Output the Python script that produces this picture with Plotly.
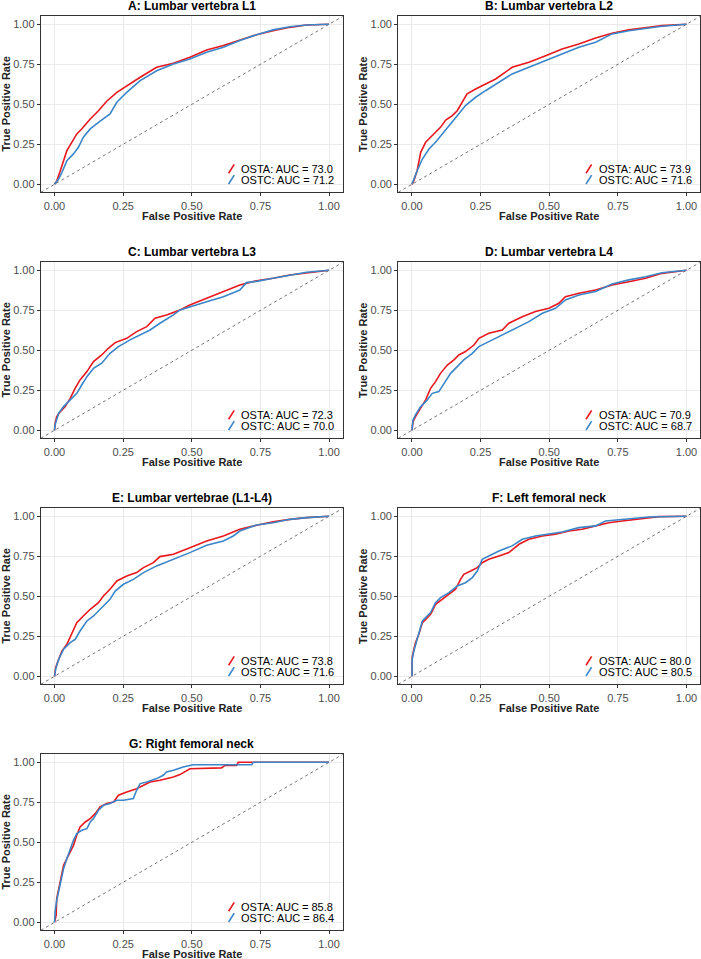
import plotly.graph_objects as go

# ---------------- data ----------------
titles = ["A: Lumbar vertebra L1", "B: Lumbar vertebra L2", "C: Lumbar vertebra L3",
          "D: Lumbar vertebra L4", "E: Lumbar vertebrae (L1-L4)", "F: Left femoral neck",
          "G: Right femoral neck"]
auc_osta = [73.0, 73.9, 72.3, 70.9, 73.8, 80.0, 85.8]
auc_ostc = [71.2, 71.6, 70.0, 68.7, 71.6, 80.5, 86.4]
tick_vals = [0.0, 0.25, 0.5, 0.75, 1.0]
tick_text = ["0.00", "0.25", "0.50", "0.75", "1.00"]

a_osta_fpr = [0, 0.008, 0.021, 0.033, 0.045, 0.063, 0.081, 0.099, 0.13, 0.16, 0.19, 0.227, 0.263, 0.312, 0.372, 0.433, 0.493, 0.554, 0.615, 0.675, 0.736, 0.796, 0.857, 0.918, 1]
a_osta_tpr = [0, 0.02, 0.085, 0.148, 0.21, 0.2625, 0.315, 0.346, 0.408, 0.46, 0.519, 0.575, 0.617, 0.669, 0.731, 0.756, 0.794, 0.84, 0.867, 0.902, 0.935, 0.96, 0.981, 0.996, 1]
a_ostc_fpr = [0, 0.015, 0.027, 0.045, 0.069, 0.087, 0.105, 0.13, 0.16, 0.202, 0.227, 0.263, 0.312, 0.372, 0.433, 0.493, 0.554, 0.615, 0.675, 0.736, 0.796, 0.857, 0.918, 1]
a_ostc_tpr = [0, 0.033, 0.075, 0.148, 0.19, 0.231, 0.294, 0.346, 0.3875, 0.44, 0.5125, 0.575, 0.648, 0.71, 0.752, 0.783, 0.825, 0.856, 0.898, 0.935, 0.965, 0.985, 0.996, 1]

b_osta_fpr = [0, 0.007, 0.019, 0.032, 0.05, 0.068, 0.086, 0.104, 0.123, 0.147, 0.165, 0.183, 0.201, 0.232, 0.268, 0.305, 0.365, 0.426, 0.487, 0.547, 0.608, 0.669, 0.729, 0.79, 0.863, 0.911, 1]
b_osta_tpr = [0, 0.023, 0.085, 0.2, 0.2625, 0.294, 0.325, 0.356, 0.402, 0.429, 0.46, 0.5125, 0.565, 0.596, 0.627, 0.658, 0.731, 0.7625, 0.804, 0.846, 0.877, 0.915, 0.944, 0.965, 0.981, 0.992, 1]
b_ostc_fpr = [0, 0.007, 0.019, 0.038, 0.062, 0.086, 0.11, 0.135, 0.165, 0.195, 0.232, 0.268, 0.305, 0.365, 0.426, 0.487, 0.547, 0.608, 0.669, 0.729, 0.79, 0.863, 0.911, 1]
b_ostc_tpr = [0, 0.033, 0.085, 0.158, 0.221, 0.2625, 0.315, 0.367, 0.429, 0.492, 0.544, 0.585, 0.627, 0.69, 0.731, 0.773, 0.819, 0.856, 0.8875, 0.94, 0.96, 0.977, 0.9875, 1]

c_osta_fpr = [0, 0.002, 0.008, 0.021, 0.039, 0.057, 0.075, 0.093, 0.118, 0.142, 0.172, 0.196, 0.221, 0.263, 0.299, 0.336, 0.366, 0.408, 0.457, 0.493, 0.554, 0.615, 0.675, 0.736, 0.796, 0.857, 0.918, 1]
c_osta_tpr = [0, 0.044, 0.085, 0.117, 0.148, 0.2, 0.2625, 0.315, 0.367, 0.429, 0.471, 0.5125, 0.548, 0.575, 0.617, 0.648, 0.7, 0.721, 0.752, 0.783, 0.825, 0.867, 0.908, 0.935, 0.95, 0.971, 0.985, 1]
c_ostc_fpr = [0, 0.002, 0.015, 0.033, 0.057, 0.081, 0.099, 0.118, 0.142, 0.172, 0.202, 0.233, 0.275, 0.312, 0.348, 0.384, 0.433, 0.457, 0.493, 0.554, 0.615, 0.675, 0.699, 0.736, 0.796, 0.857, 0.918, 1]
c_ostc_tpr = [0, 0.033, 0.106, 0.148, 0.19, 0.231, 0.283, 0.335, 0.3875, 0.419, 0.481, 0.523, 0.565, 0.596, 0.627, 0.669, 0.721, 0.752, 0.773, 0.804, 0.835, 0.877, 0.923, 0.931, 0.95, 0.971, 0.9875, 1]

d_osta_fpr = [0, 0.004, 0.013, 0.032, 0.05, 0.068, 0.086, 0.104, 0.129, 0.153, 0.171, 0.195, 0.226, 0.244, 0.28, 0.329, 0.353, 0.402, 0.45, 0.499, 0.535, 0.559, 0.608, 0.669, 0.729, 0.79, 0.851, 0.911, 1]
d_osta_tpr = [0, 0.054, 0.085, 0.1375, 0.19, 0.2625, 0.304, 0.356, 0.408, 0.44, 0.471, 0.492, 0.533, 0.575, 0.606, 0.627, 0.669, 0.71, 0.742, 0.7625, 0.794, 0.835, 0.856, 0.877, 0.908, 0.929, 0.95, 0.981, 1]
d_ostc_fpr = [0, 0.004, 0.013, 0.032, 0.056, 0.074, 0.098, 0.117, 0.141, 0.165, 0.189, 0.22, 0.244, 0.28, 0.329, 0.377, 0.426, 0.475, 0.523, 0.559, 0.608, 0.669, 0.729, 0.79, 0.851, 0.911, 1]
d_ostc_tpr = [0, 0.065, 0.096, 0.148, 0.19, 0.231, 0.242, 0.294, 0.356, 0.398, 0.44, 0.481, 0.523, 0.554, 0.596, 0.6375, 0.679, 0.731, 0.7625, 0.815, 0.846, 0.867, 0.915, 0.94, 0.96, 0.985, 1]

e_osta_fpr = [0, 0.004, 0.015, 0.027, 0.045, 0.063, 0.081, 0.105, 0.13, 0.16, 0.178, 0.202, 0.227, 0.263, 0.299, 0.324, 0.36, 0.384, 0.433, 0.493, 0.554, 0.615, 0.675, 0.736, 0.796, 0.857, 0.918, 1]
e_osta_tpr = [0, 0.054, 0.106, 0.158, 0.2, 0.2625, 0.335, 0.377, 0.419, 0.46, 0.502, 0.544, 0.596, 0.627, 0.648, 0.679, 0.71, 0.748, 0.7625, 0.804, 0.846, 0.877, 0.919, 0.944, 0.965, 0.981, 0.992, 1]
e_ostc_fpr = [0, 0.004, 0.015, 0.033, 0.057, 0.075, 0.093, 0.118, 0.142, 0.172, 0.202, 0.221, 0.251, 0.287, 0.324, 0.372, 0.433, 0.493, 0.554, 0.615, 0.651, 0.675, 0.736, 0.796, 0.857, 0.918, 1]
e_ostc_tpr = [0, 0.044, 0.106, 0.169, 0.21, 0.231, 0.283, 0.346, 0.377, 0.429, 0.481, 0.533, 0.575, 0.606, 0.648, 0.69, 0.731, 0.773, 0.819, 0.846, 0.877, 0.908, 0.946, 0.96, 0.981, 0.992, 1]

f_osta_fpr = [0, 0.001, 0.007, 0.013, 0.025, 0.038, 0.05, 0.068, 0.086, 0.11, 0.135, 0.159, 0.177, 0.189, 0.214, 0.238, 0.256, 0.28, 0.317, 0.353, 0.39, 0.426, 0.475, 0.523, 0.572, 0.62, 0.669, 0.717, 0.766, 0.814, 0.863, 0.899, 1]
f_osta_tpr = [0, 0.117, 0.169, 0.21, 0.2625, 0.335, 0.356, 0.3875, 0.45, 0.481, 0.5125, 0.544, 0.606, 0.6375, 0.658, 0.679, 0.71, 0.731, 0.752, 0.773, 0.825, 0.856, 0.877, 0.8875, 0.908, 0.919, 0.94, 0.96, 0.971, 0.981, 0.992, 0.998, 1]
f_ostc_fpr = [0, 0.001, 0.007, 0.019, 0.038, 0.05, 0.068, 0.086, 0.104, 0.135, 0.165, 0.195, 0.22, 0.238, 0.256, 0.28, 0.317, 0.365, 0.402, 0.45, 0.499, 0.547, 0.608, 0.669, 0.705, 0.766, 0.814, 0.863, 1]
f_ostc_tpr = [0, 0.106, 0.158, 0.231, 0.346, 0.367, 0.398, 0.46, 0.492, 0.523, 0.565, 0.585, 0.617, 0.658, 0.731, 0.752, 0.783, 0.815, 0.856, 0.877, 0.8875, 0.902, 0.929, 0.94, 0.971, 0.981, 0.9875, 0.996, 1]

g_osta_fpr = [0, 0.006, 0.008, 0.015, 0.027, 0.033, 0.045, 0.057, 0.069, 0.081, 0.093, 0.112, 0.13, 0.148, 0.166, 0.19, 0.215, 0.233, 0.263, 0.299, 0.324, 0.348, 0.384, 0.433, 0.457, 0.493, 0.608, 0.621, 0.663, 0.669, 1]
g_osta_tpr = [0, 0.044, 0.148, 0.21, 0.294, 0.356, 0.398, 0.44, 0.481, 0.544, 0.596, 0.627, 0.648, 0.679, 0.721, 0.742, 0.752, 0.794, 0.815, 0.835, 0.856, 0.877, 0.8875, 0.908, 0.923, 0.96, 0.965, 0.981, 0.981, 1, 1]
g_ostc_fpr = [0, 0.002, 0.008, 0.021, 0.033, 0.045, 0.057, 0.069, 0.081, 0.099, 0.118, 0.13, 0.142, 0.16, 0.178, 0.202, 0.227, 0.251, 0.287, 0.299, 0.312, 0.336, 0.372, 0.396, 0.408, 0.433, 0.469, 0.505, 0.718, 0.724, 1]
g_ostc_tpr = [0, 0.065, 0.1375, 0.231, 0.335, 0.398, 0.46, 0.5125, 0.554, 0.575, 0.585, 0.627, 0.648, 0.7, 0.731, 0.742, 0.7625, 0.7625, 0.773, 0.825, 0.867, 0.877, 0.898, 0.919, 0.94, 0.95, 0.971, 0.985, 0.985, 1, 1]

osta_curves = [(a_osta_fpr, a_osta_tpr), (b_osta_fpr, b_osta_tpr), (c_osta_fpr, c_osta_tpr),
               (d_osta_fpr, d_osta_tpr), (e_osta_fpr, e_osta_tpr), (f_osta_fpr, f_osta_tpr),
               (g_osta_fpr, g_osta_tpr)]
ostc_curves = [(a_ostc_fpr, a_ostc_tpr), (b_ostc_fpr, b_ostc_tpr), (c_ostc_fpr, c_ostc_tpr),
               (d_ostc_fpr, d_ostc_tpr), (e_ostc_fpr, e_ostc_tpr), (f_ostc_fpr, f_ostc_tpr),
               (g_ostc_fpr, g_ostc_tpr)]

# ---------------- style / layout ----------------
FIG_W, FIG_H = 701, 959
AX_RANGE = [-0.05, 1.05]
COL_LEFT = [40.8, 398.2]
PLOT_W = 302.0
ROW_TOP = [16.3, 262.3, 508.3, 754.3]
PLOT_H = 176.0
RED = "#E8171E"
BLUE = "#3A86C8"
FONT = "Liberation Sans, Arial, Helvetica, sans-serif"

fig = go.Figure()
annotations = []
shapes = []
layout_axes = {}

for i, title in enumerate(titles):
    r, c = divmod(i, 2)
    n = i + 1
    xs = "" if n == 1 else str(n)
    left = COL_LEFT[c]
    top = ROW_TOP[r]
    xdom = [left / FIG_W, (left + PLOT_W) / FIG_W]
    ydom = [1 - (top + PLOT_H) / FIG_H, 1 - top / FIG_H]

    common = dict(range=AX_RANGE, tickvals=tick_vals, ticktext=tick_text,
                  showgrid=True, gridcolor="#EBEBEB", gridwidth=1, zeroline=False,
                  showline=True, linecolor="#333333", linewidth=1, mirror=True,
                  ticks="outside", ticklen=3, tickwidth=1, tickcolor="#333333",
                  tickfont=dict(family=FONT, size=11, color="#4D4D4D"), fixedrange=True)
    layout_axes["xaxis" + xs] = dict(domain=xdom, anchor="y" + xs, **common)
    layout_axes["yaxis" + xs] = dict(domain=ydom, anchor="x" + xs, **common)

    # diagonal reference (abline slope 1)
    fig.add_trace(go.Scatter(x=AX_RANGE, y=AX_RANGE, mode="lines", xaxis="x" + xs, yaxis="y" + xs,
                             line=dict(color="#555555", width=0.8, dash="3px,3px"),
                             showlegend=False, hoverinfo="skip"))
    fx, fy = osta_curves[i]
    fig.add_trace(go.Scatter(x=fx, y=fy, mode="lines", xaxis="x" + xs, yaxis="y" + xs,
                             line=dict(color=RED, width=1.6), name="OSTA", showlegend=False))
    cx, cy = ostc_curves[i]
    fig.add_trace(go.Scatter(x=cx, y=cy, mode="lines", xaxis="x" + xs, yaxis="y" + xs,
                             line=dict(color=BLUE, width=1.6), name="OSTC", showlegend=False))

    # panel title
    annotations.append(dict(text="<b>%s</b>" % title, xref="paper", yref="paper",
                            x=(left + PLOT_W / 2) / FIG_W, y=1 - (top - 10.5) / FIG_H,
                            xanchor="center", yanchor="middle", showarrow=False,
                            font=dict(family=FONT, size=12, color="#000000")))
    # axis titles
    annotations.append(dict(text="<b>False Positive Rate</b>", xref="paper", yref="paper",
                            x=(left + PLOT_W / 2) / FIG_W, y=1 - (top + PLOT_H + 23.5) / FIG_H,
                            xanchor="center", yanchor="middle", showarrow=False,
                            font=dict(family=FONT, size=11, color="#222222")))
    annotations.append(dict(text="<b>True Positive Rate</b>", xref="paper", yref="paper",
                            x=(left - 34.5) / FIG_W, y=1 - (top + PLOT_H / 2) / FIG_H,
                            xanchor="center", yanchor="middle", showarrow=False, textangle=-90,
                            font=dict(family=FONT, size=11, color="#222222")))
    # legend inside
    for lab, auc, col, ty, ky in [("OSTA", auc_osta[i], RED, 0.1307, 0.108),
                                  ("OSTC", auc_ostc[i], BLUE, 0.070, 0.047)]:
        annotations.append(dict(text="%s: AUC = %.1f" % (lab, auc),
                                xref="x%s domain" % xs, yref="y%s domain" % xs,
                                x=0.657, y=ty, xanchor="left", yanchor="middle", showarrow=False,
                                font=dict(family=FONT, size=11, color="#000000")))
        shapes.append(dict(type="line", xref="x%s domain" % xs, yref="y%s domain" % xs,
                           x0=0.622, x1=0.6405, y0=ky, y1=ky + 0.051,
                           line=dict(color=col, width=1.6)))

fig.update_layout(width=FIG_W, height=FIG_H, margin=dict(l=0, r=0, t=0, b=0),
                  paper_bgcolor="white", plot_bgcolor="white",
                  annotations=annotations, shapes=shapes, showlegend=False,
                  font=dict(family=FONT), **layout_axes)

fig.write_html("out.html", config={"displayModeBar": False},
               post_script="document.body.style.margin='0';document.body.style.overflow='hidden';")
